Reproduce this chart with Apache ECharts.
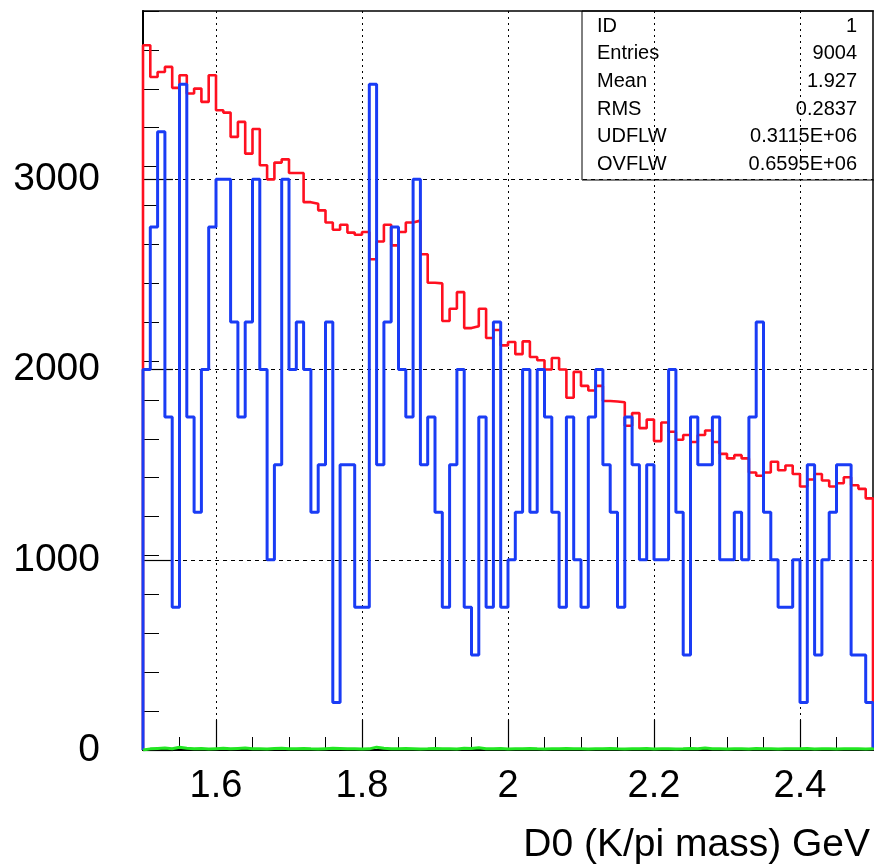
<!DOCTYPE html>
<html><head><meta charset="utf-8">
<script src="https://cdn.jsdelivr.net/npm/echarts@6/dist/echarts.min.js"></script>
<style>html,body{margin:0;padding:0;background:#fff}#c{width:874px;height:868px}</style>
</head><body><div id="c"></div>
<script>
// ---- data ----
const binStart = 1.5;
const binWidth = 0.01;
const redCounts = [
  3705,3538,3564,3591,3481,3547,3451,3477,3407,3547,
  3363,3351,3223,3302,3135,3265,3074,3000,3088,3105,
  3033,3033,2880,2872,2837,2773,2735,2761,2720,2709,
  2723,2580,2673,2761,2653,2723,2773,2783,2606,2456,
  2453,2255,2320,2407,2218,2228,2320,2166,2208,2127,
  2145,2081,2148,2066,2049,2000,2061,2000,1852,1988,
  1914,1890,1914,1835,1832,1828,1705,1771,1692,1737,
  1624,1722,1673,1631,1656,1619,1656,1680,1619,1557,
  1533,1550,1533,1459,1442,1459,1515,1471,1496,1451,
  1385,1422,1451,1417,1385,1402,1434,1392,1373,1323
];
const blueCounts = [
  2000,2750,3250,1750,750,3500,1750,1250,2000,2750,
  3000,3000,2250,1750,2250,3000,2000,1000,1500,3000,
  2000,2250,2000,1250,1500,2250,250,1500,1500,750,
  750,3500,1500,2250,2750,2000,1750,3000,1500,1750,
  1250,750,1500,2000,750,500,1750,750,2250,750,
  1000,1250,2000,1250,2000,1750,1250,750,1750,1000,
  750,1750,2000,1500,1250,750,1750,1500,1000,1500,
  1000,1000,2000,1250,500,1750,1500,1500,1750,1000,
  1000,1250,1000,1750,2250,1250,1000,750,750,1000,
  250,1500,500,1000,1250,1500,1500,500,500,250
];
const greenCounts = [
  6,8,10,7,14,9,6,8,5,7,
  9,6,8,10,6,7,5,8,9,6,
  7,8,6,5,7,9,8,6,7,5,
  6,15,9,7,6,8,7,5,6,8,
  7,6,5,9,8,12,7,6,8,5,
  6,7,8,6,5,7,6,8,7,6,
  5,7,6,8,6,5,7,6,8,5,
  6,7,5,6,8,6,10,7,6,5,
  7,6,5,8,6,7,5,6,7,6,
  8,5,7,6,5,6,7,6,5,6
];
const xMajorTicks = [1.6, 1.8, 2.0, 2.2, 2.4];
const yMajorTicks = [0, 1000, 2000, 3000];
const statsLabels = ['ID', 'Entries', 'Mean', 'RMS', 'UDFLW', 'OVFLW'];
const statsValues = ['1', '9004', '1.927', '0.2837', '0.3115E+06', '0.6595E+06'];
const xTitle = 'D0 (K/pi mass) GeV';

// ---- helpers ----
function stepPoints(counts) {
  const pts = [[binStart, 0]];
  counts.forEach((v, i) => {
    const lo = +(binStart + i * binWidth).toFixed(4);
    const hi = +(binStart + (i + 1) * binWidth).toFixed(4);
    pts.push([lo, v], [hi, v]);
  });
  pts.push([+(binStart + counts.length * binWidth).toFixed(4), 0]);
  return pts;
}
const FONT = '"Liberation Sans", Arial, Helvetica, sans-serif';
const xMin = binStart, xMax = +(binStart + redCounts.length * binWidth).toFixed(4);
const yMax = 3885;

const chart = echarts.init(document.getElementById('c'), null, {renderer: 'canvas'});

const statsGraphics = [{
  type: 'rect', z: 100,
  shape: {x: 582, y: 11, width: 300, height: 169},
  style: {fill: 'none', stroke: '#000', lineWidth: 1}
}];
statsLabels.forEach((lab, i) => {
  statsGraphics.push({
    type: 'text', z: 101, x: 597, y: 26 + 27.7 * i,
    style: {text: lab, font: '20px ' + FONT, fill: '#000', textAlign: 'left', textVerticalAlign: 'middle'}
  });
  statsGraphics.push({
    type: 'text', z: 101, x: 857, y: 26 + 27.7 * i,
    style: {text: statsValues[i], font: '20px ' + FONT, fill: '#000', textAlign: 'right', textVerticalAlign: 'middle'}
  });
});
statsGraphics.push({
  type: 'text', z: 101, x: 870, y: 845,
  style: {text: xTitle, font: '39px ' + FONT, fill: '#000', textAlign: 'right', textVerticalAlign: 'middle'}
});

chart.setOption({
  animation: false,
  backgroundColor: '#fff',
  grid: {
    left: 143, right: 1, top: 11, bottom: 118,
    containLabel: false, outerBoundsMode: 'none',
    show: true, borderColor: '#000', borderWidth: 1.5, backgroundColor: 'transparent'
  },
  xAxis: [{
    type: 'value', min: xMin, max: xMax, position: 'bottom',
    axisLine: {show: true, onZero: false, lineStyle: {color: '#000', width: 2}},
    axisTick: {show: true, inside: true, length: 30, customValues: xMajorTicks, lineStyle: {color: '#000', width: 1.2}},
    axisLabel: {show: true, customValues: xMajorTicks, margin: 18, fontSize: 38, fontFamily: FONT, color: '#000',
      formatter: v => String(+(+v).toFixed(2))},
    splitLine: {show: true, lineStyle: {color: '#000', width: 1, type: [2, 4]}}
  }, {
    type: 'value', min: xMin, max: xMax, interval: 0.05, position: 'bottom', offset: 0,
    axisLine: {show: false},
    axisTick: {show: true, inside: true, length: 13, lineStyle: {color: '#000', width: 1}},
    axisLabel: {show: false},
    splitLine: {show: false}
  }],
  yAxis: [{
    type: 'value', min: 0, max: yMax, position: 'left',
    axisLine: {show: true, onZero: false, lineStyle: {color: '#000', width: 2}},
    axisTick: {show: true, inside: true, length: 30, customValues: yMajorTicks, lineStyle: {color: '#000', width: 1.2}},
    axisLabel: {show: true, customValues: yMajorTicks, margin: 43, fontSize: 39, fontFamily: FONT, color: '#000',
      formatter: v => String(Math.round(v))},
    splitLine: {show: true, lineStyle: {color: '#000', width: 1, type: [4, 4]}}
  }, {
    type: 'value', min: 0, max: 3800, interval: 200, position: 'left', offset: 0,
    axisLine: {show: false},
    axisTick: {show: true, inside: true, length: 16, lineStyle: {color: '#000', width: 1}},
    axisLabel: {show: false},
    splitLine: {show: false}
  }],
  graphic: statsGraphics,
  series: [{
    name: 'red', type: 'line', xAxisIndex: 0, yAxisIndex: 0, z: 2,
    data: stepPoints(redCounts), showSymbol: false, symbol: 'none',
    lineStyle: {color: '#ff1020', width: 2.6}, silent: true
  }, {
    name: 'blue', type: 'line', xAxisIndex: 0, yAxisIndex: 0, z: 3,
    data: stepPoints(blueCounts), showSymbol: false, symbol: 'none',
    lineStyle: {color: '#1a3cf5', width: 3}, silent: true
  }, {
    name: 'green', type: 'line', xAxisIndex: 0, yAxisIndex: 0, z: 4,
    data: stepPoints(greenCounts), showSymbol: false, symbol: 'none',
    lineStyle: {color: '#22e622', width: 3}, silent: true
  }]
});
</script>
</body></html>
